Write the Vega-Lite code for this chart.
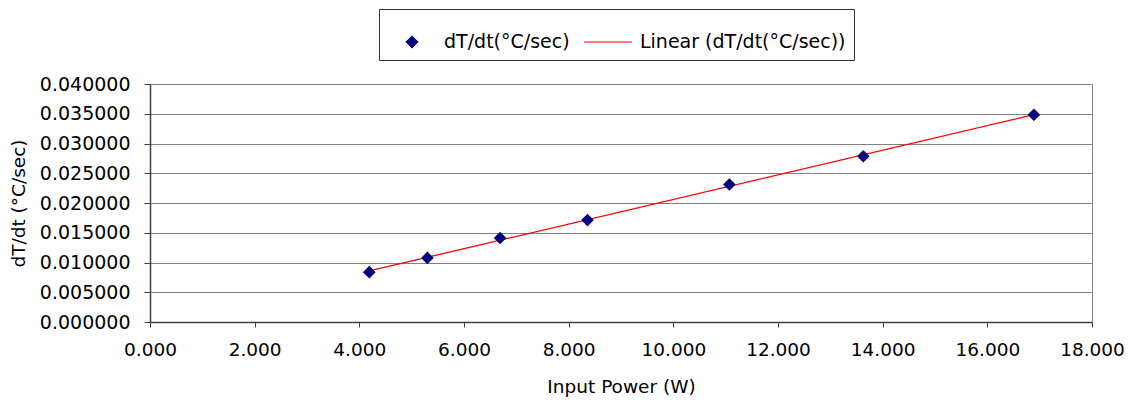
{
  "$schema": "https://vega.github.io/schema/vega-lite/v6.json",
  "autosize": "none",
  "width": 942,
  "height": 238,
  "padding": {"left": 150, "top": 84, "right": 44, "bottom": 80},
  "background": "white",
  "config": {
    "font": "DejaVu Sans",
    "view": {"stroke": "#808080", "strokeWidth": 1}
  },
  "data": {
    "values": [
      {"power": 4.19, "rate": 0.00837},
      {"power": 5.30, "rate": 0.01077},
      {"power": 6.69, "rate": 0.01412},
      {"power": 8.36, "rate": 0.01713},
      {"power": 11.07, "rate": 0.02311},
      {"power": 13.63, "rate": 0.02785},
      {"power": 16.89, "rate": 0.03483}
    ]
  },
  "encoding": {
    "x": {
      "field": "power",
      "type": "quantitative",
      "scale": {"domain": [0, 18], "nice": false, "zero": true},
      "axis": {
        "title": "Input Power (W)",
        "values": [0, 2, 4, 6, 8, 10, 12, 14, 16, 18],
        "format": ".3f",
        "grid": false,
        "labelFlush": false,
        "labelOverlap": false,
        "domainColor": "#404040",
        "domainWidth": 1.5,
        "tickColor": "#404040",
        "tickSize": 5,
        "labelFont": "DejaVu Sans",
        "labelFontSize": 18.5,
        "labelColor": "black",
        "labelPadding": 13,
        "titleFont": "DejaVu Sans",
        "titleFontSize": 18.5,
        "titleFontWeight": "normal",
        "titleColor": "black",
        "titlePadding": 19
      }
    },
    "y": {
      "field": "rate",
      "type": "quantitative",
      "scale": {"domain": [0, 0.04], "nice": false},
      "axis": {
        "title": "dT/dt (°C/sec)",
        "values": [0, 0.005, 0.01, 0.015, 0.02, 0.025, 0.03, 0.035, 0.04],
        "format": ".6f",
        "grid": true,
        "labelFlush": false,
        "labelOverlap": false,
        "gridColor": "#808080",
        "gridWidth": 1,
        "domainColor": "#404040",
        "domainWidth": 1.5,
        "tickColor": "#404040",
        "tickSize": 6,
        "labelFont": "DejaVu Sans",
        "labelFontSize": 19,
        "labelColor": "black",
        "labelPadding": 14,
        "titleFont": "DejaVu Sans",
        "titleFontSize": 18.5,
        "titleFontWeight": "normal",
        "titleColor": "black",
        "titlePadding": 11
      }
    }
  },
  "layer": [
    {
      "transform": [{"regression": "rate", "on": "power", "method": "linear"}],
      "mark": {"type": "line", "strokeWidth": 1.3},
      "encoding": {
        "color": {
          "datum": "Linear (dT/dt(°C/sec))",
          "type": "nominal",
          "scale": {
            "domain": ["dT/dt(°C/sec)", "Linear (dT/dt(°C/sec))"],
            "range": ["#000080", "#FF0000"]
          },
          "legend": {
            "title": null,
            "orient": "none",
            "legendX": 229,
            "legendY": -75,
            "direction": "horizontal",
            "strokeColor": "#333333",
            "fillColor": "white",
            "padding": 8,
            "symbolType": "stroke",
            "symbolSize": 2304,
            "symbolStrokeWidth": 1.2,
            "labelFont": "DejaVu Sans",
            "labelFontSize": 19,
            "labelColor": "black",
            "labelOffset": 7,
            "columnPadding": 11,
            "labelLimit": 400,
            "encode": {
              "symbols": {
                "update": {
                  "shape": {"signal": "datum.index === 0 ? 'diamond' : 'stroke'"},
                  "size": {"signal": "datum.index === 0 ? 130 : 2304"},
                  "fill": {"signal": "datum.index === 0 ? '#000080' : 'transparent'"},
                  "stroke": {"signal": "datum.index === 0 ? 'transparent' : '#FF0000'"},
                  "strokeWidth": {"value": 1.2},
                  "opacity": {"value": 1}
                }
              }
            }
          }
        }
      }
    },
    {
      "mark": {"type": "point", "shape": "diamond", "filled": true, "size": 160, "opacity": 1},
      "encoding": {
        "color": {"datum": "dT/dt(°C/sec)", "type": "nominal"}
      }
    }
  ]
}
